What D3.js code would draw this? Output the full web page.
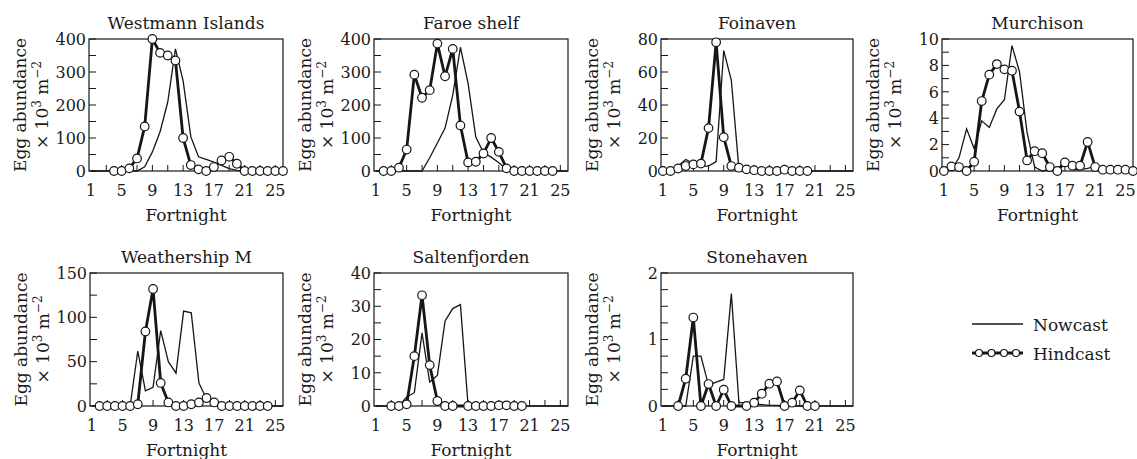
<!DOCTYPE html>
<html><head><meta charset="utf-8">
<script src="https://cdn.jsdelivr.net/npm/d3@7"></script>
<style>
html,body{margin:0;padding:0;background:#fff;}
text{font-family:"DejaVu Serif",serif;fill:#1a1a1a;}
</style></head>
<body><svg id="c" width="1137" height="459"></svg>
<script>
// fortnights 1..26; null = no sample
const fortnights = d3.range(1, 27);
const xTickLabels = [1, 5, 9, 13, 17, 21, 25];
const xMinorTicks = [3, 5, 7, 9, 11, 13, 15, 17, 19, 21, 23, 25];
const panelNames = ["Westmann Islands", "Faroe shelf", "Foinaven", "Murchison", "Weathership M", "Saltenfjorden", "Stonehaven"];
const seriesNames = ["Nowcast", "Hindcast"];

const westmannNowcast  = [0,0,0,0,0,0,0,13,58,119,209,370,273,104,43,35,27,17,7,2,0,0,0,0,0,0];
const westmannHindcast = [null,null,null,0,0,8,38,135,400,358,350,335,100,18,5,0,12,32,43,22,0,0,0,0,0,0];
const faroeNowcast     = [0,0,0,0,0,0,0,40,85,130,230,375,265,103,55,42,25,5,0,0,0,0,0,0,0,0];
const faroeHindcast    = [null,0,0,10,65,292,222,245,386,287,370,138,26,28,53,100,58,8,0,0,0,0,0,0,null,null];
const foinavenNowcast  = [0,0.4,3,7,4.6,3,3,5.7,73,55,1,0,0,0,0,0,0,0,0,0,0,0,0,0,0,0];
const foinavenHindcast = [0,0,1.5,3,4,4.5,26,78,20.5,3,2,1,0.5,0,0,0,0.8,0,0,0,null,null,null,null,null,null];
const murchisonNowcast = [0,0.1,1.0,3.2,1.7,3.8,3.3,4.7,5.4,9.5,7.5,2.9,0.3,0,0.1,0.1,0.8,0.1,0.1,0.2,0.35,0.1,0.05,0,0,0];
const murchisonHindcast= [0,0.35,0.3,0,0.7,5.3,7.3,8.1,7.7,7.6,4.5,0.8,1.5,1.35,0.3,0,0.65,0.4,0.4,2.2,0.3,0.1,0.1,0.1,0.1,0];
const weathershipNowcast  = [0,0,0,0,0,0,62,17,21,85,50,37,107,105,26,8,2,0,0,0,0,0,0,0,0,0];
const weathershipHindcast = [null,0,0,0,0,0,2,84,132,26,4,0,0,2,4,9,4,0,0,0,0,0,0,0,null,null];
const saltenNowcast    = [0,0,0,0,2.7,4,22,7.2,9.2,25.6,29.3,30.5,0,0,0,0,0,0,0,0,0,0,0,0,0,0];
const saltenHindcast   = [null,null,0,0,0.5,15,33.3,12.3,1.5,0,0,null,0,0,0,0,0.2,0.2,0,0,null,null,null,null,null,null];
const stonehavenNowcast  = [0,0,0,0,0.75,0.75,0.31,0.36,0.4,1.69,0.05,0.05,0.03,0.02,0.01,0.01,0,0,0,0,0,0,0,0,0,0];
const stonehavenHindcast = [null,null,0,0.41,1.33,0,0.33,0,0.245,0,null,0,0.05,0.185,0.335,0.37,0,0.05,0.235,0,0,null,null,null,null,null];

const yMaxes   = [400, 400, 80, 10, 150, 40, 2];
const yMajorSteps = [100, 100, 20, 2, 50, 10, 1];
const yMinorSteps = [50, 50, 10, 1, 25, 5, 0.25];

const nowcasts  = [westmannNowcast, faroeNowcast, foinavenNowcast, murchisonNowcast, weathershipNowcast, saltenNowcast, stonehavenNowcast];
const hindcasts = [westmannHindcast, faroeHindcast, foinavenHindcast, murchisonHindcast, weathershipHindcast, saltenHindcast, stonehavenHindcast];

// layout
const boxes = [
  [89, 283, 39, 171], [374, 568, 39, 171], [661, 853, 39, 171], [942, 1133, 39, 171],
  [90, 283, 273, 406], [374, 568, 273, 406], [661, 853, 273, 406]
];
const ink = "#161616";
const svg = d3.select("#c");

panelNames.forEach((name, i) => {
  const [x0, x1, y0, y1] = boxes[i];
  const x = d3.scaleLinear().domain([0.75, 26]).range([x0, x1]);
  const y = d3.scaleLinear().domain([0, yMaxes[i]]).range([y1, y0]);
  const g = svg.append("g");

  // frame
  g.append("rect").attr("x", x0).attr("y", y0).attr("width", x1 - x0).attr("height", y1 - y0)
    .attr("fill", "none").attr("stroke", ink).attr("stroke-width", 1.2);

  // y ticks (inward)
  const minor = d3.range(0, yMaxes[i] + 1e-9, yMinorSteps[i]);
  g.selectAll(".yt").data(minor).enter().append("line")
    .attr("x1", x0).attr("x2", x0 + 7).attr("y1", d => y(d)).attr("y2", d => y(d))
    .attr("stroke", ink).attr("stroke-width", 1);
  const major = d3.range(0, yMaxes[i] + 1e-9, yMajorSteps[i]);
  g.selectAll(".yl").data(major).enter().append("text")
    .attr("x", x0 - 3).attr("y", d => y(d)).attr("dy", "0.36em")
    .attr("text-anchor", "end").attr("font-size", 16).text(d => d);

  // x ticks (inward)
  g.selectAll(".xt").data(xMinorTicks).enter().append("line")
    .attr("x1", d => x(d)).attr("x2", d => x(d)).attr("y1", y1).attr("y2", y1 - 6)
    .attr("stroke", ink).attr("stroke-width", 1);
  g.selectAll(".xl").data(xTickLabels).enter().append("text")
    .attr("x", d => x(d)).attr("y", y1 + 25).attr("text-anchor", "middle")
    .attr("font-size", 16).text(d => d);

  // titles and axis labels
  g.append("text").attr("x", (x0 + x1) / 2).attr("y", y0 - 10).attr("text-anchor", "middle")
    .attr("font-size", 17).text(name);
  g.append("text").attr("x", (x0 + x1) / 2).attr("y", y1 + 50).attr("text-anchor", "middle")
    .attr("font-size", 17).text("Fortnight");
  const cy = (y0 + y1) / 2;
  g.append("text").attr("transform", `translate(${x0 - 63},${cy}) rotate(-90)`)
    .attr("text-anchor", "middle").attr("font-size", 17).text("Egg abundance");
  const t2 = g.append("text").attr("transform", `translate(${x0 - 41},${cy}) rotate(-90)`)
    .attr("text-anchor", "middle").attr("font-size", 17);
  t2.append("tspan").text("× 10");
  t2.append("tspan").attr("font-size", 12).attr("dy", -7).text("3");
  t2.append("tspan").attr("dy", 7).text(" m");
  t2.append("tspan").attr("font-size", 12).attr("dy", -7).text("−2");

  const line = d3.line().x(d => x(d.f)).y(d => y(d.v));
  const nowPts = fortnights.map((f, k) => ({f, v: nowcasts[i][k]})).filter(d => d.v !== null);
  const hindPts = fortnights.map((f, k) => ({f, v: hindcasts[i][k]})).filter(d => d.v !== null);

  g.append("path").attr("d", line(nowPts)).attr("fill", "none")
    .attr("stroke", ink).attr("stroke-width", 1.3).attr("stroke-linejoin", "miter");
  g.append("path").attr("d", line(hindPts)).attr("fill", "none")
    .attr("stroke", ink).attr("stroke-width", 2.8).attr("stroke-linejoin", "round");
  g.selectAll(".pt").data(hindPts).enter().append("circle")
    .attr("cx", d => x(d.f)).attr("cy", d => y(d.v)).attr("r", 4.3)
    .attr("fill", "#fff").attr("stroke", ink).attr("stroke-width", 1.2);
});

// legend
const lg = svg.append("g");
lg.append("line").attr("x1", 972).attr("x2", 1023).attr("y1", 324).attr("y2", 324)
  .attr("stroke", ink).attr("stroke-width", 1.3);
lg.append("text").attr("x", 1033).attr("y", 331).attr("font-size", 17).text(seriesNames[0]);
lg.append("line").attr("x1", 972).attr("x2", 1023).attr("y1", 353).attr("y2", 353)
  .attr("stroke", ink).attr("stroke-width", 2.8);
lg.selectAll(".lc").data([979, 991.5, 1004, 1016]).enter().append("circle")
  .attr("cx", d => d).attr("cy", 353).attr("r", 3.5)
  .attr("fill", "#fff").attr("stroke", ink).attr("stroke-width", 1.2);
lg.append("text").attr("x", 1033).attr("y", 360).attr("font-size", 17).text(seriesNames[1]);
</script></body></html>
